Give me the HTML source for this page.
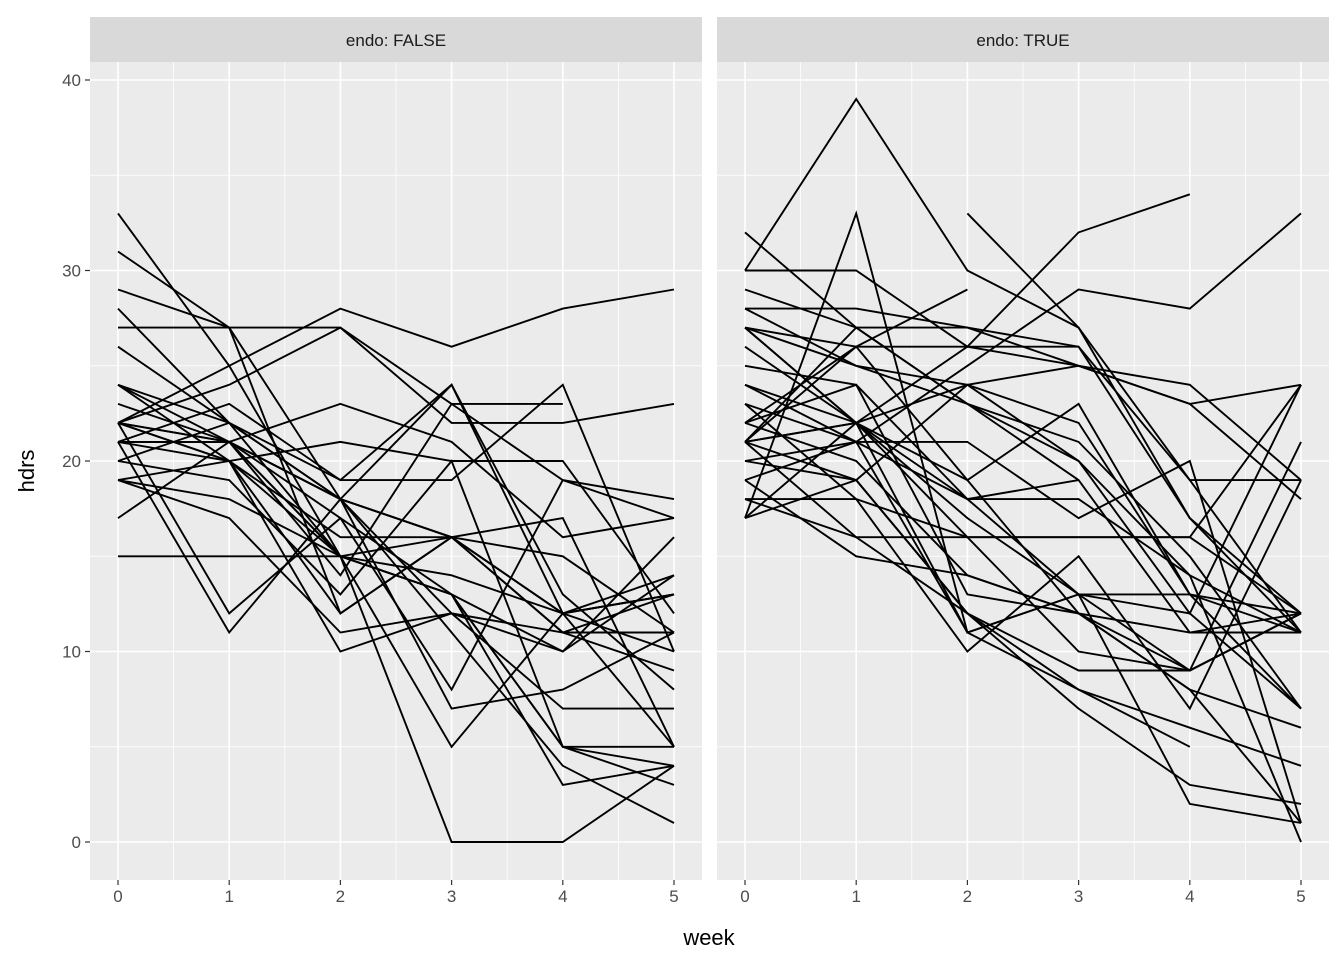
<!DOCTYPE html>
<html><head><meta charset="utf-8"><style>
body{margin:0;background:#fff;}
svg text{font-family:"Liberation Sans",Arial,sans-serif;}
</style></head><body>
<svg id="c" width="1344" height="960" xmlns="http://www.w3.org/2000/svg"></svg>
<script>
const weeks=[0,1,2,3,4,5];
const yTicks=[0,10,20,30,40];
const panelLabels=["endo: FALSE","endo: TRUE"];
const seriesFalse=[
[33,25,15,13,5,5],[31,27,12,16,12,13],[29,27,18,16,11,11],[28,22,18,16,12,10],
[27,27,27,23,23,null],[26,22,19,19,24,10],[24,21,17,8,19,18],[24,22,15,14,12,13],
[23,21,15,13,10,16],[22,25,28,26,28,29],[22,24,27,22,22,23],[22,21,23,21,16,17],
[22,21,18,16,15,11],[22,20,16,16,12,5],[21,20,21,20,20,12],[21,21,18,24,12,14],
[21,23,19,24,13,8],[21,21,18,7,8,11],[20,19,13,20,5,4],[20,22,18,12,7,7],
[19,17,11,12,11,13],[19,20,15,13,5,3],[19,18,15,5,12,13],[17,21,15,0,0,4],
[15,15,15,16,11,9],[22,12,17,13,3,4],[21,11,18,11,4,1],[24,20,12,16,17,5],
[22,20,10,12,10,14],[21,21,14,23,19,17]];
const seriesTrue=[
[30,39,30,27,17,12],[21,26,29,null,null,null],[null,null,33,27,19,11],[17,33,11,13,9,12],
[19,21,25,29,28,33],[21,22,26,32,34,null],[32,27,23,21,15,7],[30,30,26,25,24,19],
[29,27,27,25,23,24],[28,28,27,26,17,11],[27,26,26,26,19,19],[27,25,23,20,14,0],
[27,22,16,16,16,12],[26,22,17,13,12,7],[25,24,18,18,14,11],[24,21,21,17,20,1],
[24,22,19,23,13,11],[23,21,18,13,13,12],[22,26,19,12,8,1],[22,20,14,12,11,12],
[21,22,24,25,23,18],[21,27,23,19,11,11],[21,16,16,16,16,24],[20,19,24,22,13,7],
[19,15,14,12,9,21],[18,18,16,10,9,12],[18,16,12,9,9,12],[17,19,12,8,6,4],
[17,22,11,13,2,1],[21,19,12,7,3,2],[22,24,13,12,8,6],[27,22,18,19,null,null],
[23,18,10,15,7,19],[20,21,11,8,5,null],[28,25,24,20,12,24]];
const NS="http://www.w3.org/2000/svg";
const svg=document.getElementById('c');
function mk(t,a,p){const e=document.createElementNS(NS,t);for(const k in a)e.setAttribute(k,a[k]);(p||svg).appendChild(e);return e;}
const topY=62,botY=880;
function yScale(v){return 842+(v-0)*(80-842)/40;}
const panels=[{x0:90,x1:702,data:seriesFalse},{x0:717,x1:1329,data:seriesTrue}];
panels.forEach((p,pi)=>{
  const x=v=>p.x0+28+v*111.2;
  const g=mk('g',{});
  
  
  mk('rect',{x:p.x0,y:topY,width:p.x1-p.x0,height:botY-topY,fill:'#EBEBEB'},g);
  [5,15,25,35].forEach(v=>mk('line',{x1:p.x0,x2:p.x1,y1:yScale(v),y2:yScale(v),stroke:'#fff','stroke-width':0.8},g));
  [0.5,1.5,2.5,3.5,4.5].forEach(v=>mk('line',{x1:x(v),x2:x(v),y1:topY,y2:botY,stroke:'#fff','stroke-width':0.8},g));
  yTicks.forEach(v=>mk('line',{x1:p.x0,x2:p.x1,y1:yScale(v),y2:yScale(v),stroke:'#fff','stroke-width':1.6},g));
  weeks.forEach(v=>mk('line',{x1:x(v),x2:x(v),y1:topY,y2:botY,stroke:'#fff','stroke-width':1.6},g));
  p.data.forEach((s,si)=>{
    let d='',pen=false;
    s.forEach((v,i)=>{if(v===null){pen=false;return;}d+=(pen?'L':'M')+x(weeks[i]).toFixed(1)+','+yScale(v).toFixed(1);pen=true;});
    const l=mk('path',{d:d,fill:'none',stroke:'#000','stroke-width':1.9},g);
    
    
  });
  const st=mk('rect',{x:p.x0,y:17,width:p.x1-p.x0,height:45,fill:'#D9D9D9'});
  
  
  const tt=mk('text',{x:(p.x0+p.x1)/2,y:46,'text-anchor':'middle','font-size':17,fill:'#1A1A1A'});
  tt.textContent=panelLabels[pi];
  
  
  weeks.forEach(v=>{
    mk('line',{x1:x(v),x2:x(v),y1:botY,y2:botY+5,stroke:'#333','stroke-width':1.2});
    const t=mk('text',{x:x(v),y:botY+22,'text-anchor':'middle','font-size':17,fill:'#4D4D4D'});
    t.textContent=v;
    
    
  });
});
yTicks.forEach(v=>{
  mk('line',{x1:85,x2:90,y1:yScale(v),y2:yScale(v),stroke:'#333','stroke-width':1.2});
  const t=mk('text',{x:81,y:yScale(v)+6,'text-anchor':'end','font-size':17,fill:'#4D4D4D'});
  t.textContent=v;
  
  
});
const xt=mk('text',{x:709,y:945,'text-anchor':'middle','font-size':22,fill:'#000'});
xt.textContent='week';


const yt=mk('text',{x:0,y:0,'text-anchor':'middle','font-size':22,fill:'#000',transform:'translate(34,471) rotate(-90)'});
yt.textContent='hdrs';


</script>
</body></html>
